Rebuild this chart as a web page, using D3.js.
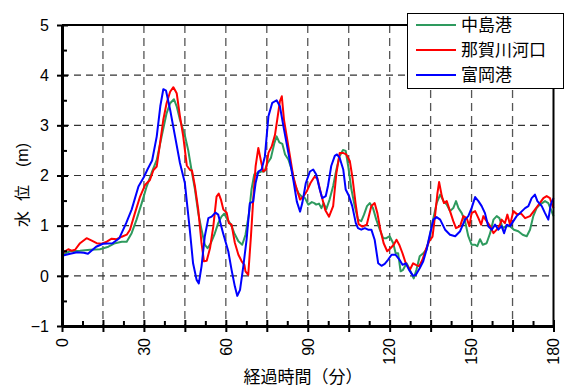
<!DOCTYPE html>
<html><head><meta charset="utf-8">
<script src="https://cdn.jsdelivr.net/npm/d3@7"></script>
<style>body{margin:0;background:#fff}svg{display:block}</style>
</head><body><svg id="c" width="564" height="387"></svg>
<script>
const seriesNames = ["中島港","那賀川河口","富岡港"];
const seriesColors = ["#2e9a5e","#ff0000","#0000ff"];
const xMajor = [0,15,30,45,60,75,90,105,120,135,150,165,180];
const xMinor = [7.5,22.5,37.5,52.5,67.5,82.5,97.5,112.5,127.5,142.5,157.5,172.5];
const xLabels = [0,30,60,90,120,150,180];
const yMajor = [-1,0,1,2,3,4,5];
const yMinor = [-0.5,0.5,1.5,2.5,3.5,4.5];
const yGrid = [0,1,2,3,4];

const nakajima = [[0,0.42],[2.9,0.49],[6.6,0.50],[10.3,0.52],[13.9,0.53],[17,0.58],[19.4,0.65],[21.9,0.68],[23.7,0.68],[25.5,0.85],[27.3,1.12],[29.2,1.45],[31,1.78],[32.8,2.05],[34.7,2.31],[36.5,2.78],[38.3,3.24],[39.6,3.44],[41,3.52],[42,3.38],[43.2,3.11],[45,2.8],[46.2,2.51],[47.4,2.12],[48.7,1.72],[49.9,1.25],[51.1,0.92],[52.3,0.62],[53.3,0.55],[54.5,0.65],[55.8,0.82],[57.2,1.05],[58.4,1.18],[59.4,1.24],[60.6,1.12],[61.9,1.02],[63.1,0.85],[64.6,0.69],[66,0.62],[67.2,0.82],[68.5,1.25],[69.4,1.72],[70.4,2.02],[71.7,2.05],[72.9,2.08],[74.1,2.08],[75.3,2.25],[76.5,2.35],[77.8,2.65],[78.6,2.78],[79.6,2.66],[80.7,2.63],[81.7,2.42],[82.9,2.32],[84.1,2.12],[85.3,1.82],[86.6,1.65],[87.8,1.58],[89,1.55],[90.2,1.42],[91.5,1.47],[92.4,1.45],[93.1,1.42],[94.1,1.44],[95,1.35],[95.8,1.45],[96.8,1.33],[98,1.52],[99.3,1.79],[100.5,2.12],[101.7,2.39],[102.9,2.51],[103.9,2.49],[104.8,2.19],[106,1.72],[107.2,1.39],[108.4,1.12],[109.6,1.09],[110.6,1.22],[111.7,1.39],[112.7,1.45],[113.9,1.35],[115.1,1.12],[116.4,0.92],[117.6,0.75],[118.8,0.75],[120,0.79],[121.3,0.65],[122.2,0.45],[123.1,0.45],[124,0.09],[124.9,0.12],[126.2,0.25],[127.4,0.12],[128.8,-0.05],[129.8,0.12],[131,0.39],[132.3,0.45],[133.5,0.52],[134.7,0.79],[135.9,1.12],[137.2,1.45],[138.5,1.62],[139.7,1.49],[140.9,1.42],[142.1,1.29],[143.3,1.35],[144.3,1.49],[145.2,1.35],[146.4,1.25],[147.6,1.09],[148.8,0.79],[150,0.62],[151.3,0.62],[152.1,0.59],[153.1,0.73],[154.1,0.62],[155.5,0.65],[156.8,0.85],[158,1.12],[159.2,1.19],[160.2,1.15],[161.4,0.95],[162.6,0.99],[164.1,0.99],[165.5,0.92],[167.1,0.89],[168.7,0.82],[170.2,0.79],[171.4,0.92],[172.6,1.19],[173.8,1.35],[175,1.42],[176.9,1.49],[178.1,1.45],[179.3,1.29],[180,1.19]];

const nakagawa = [[0,0.44],[1.1,0.49],[2.3,0.53],[3.5,0.50],[4.8,0.52],[6.6,0.65],[9,0.75],[10.9,0.70],[12.7,0.65],[14.5,0.64],[16.4,0.68],[18.2,0.74],[20,0.73],[21.9,0.78],[23.7,0.82],[24.9,0.92],[26.7,1.25],[28.6,1.58],[30.4,1.81],[32.2,1.91],[33.5,2.11],[34.7,2.18],[35.9,2.64],[37.1,3.11],[38.3,3.44],[39.6,3.67],[40.8,3.76],[42,3.64],[43.2,3.18],[44.4,2.78],[45.7,2.2],[46.9,2.11],[47.6,2.1],[48.7,1.78],[49.9,1.32],[51.1,0.65],[52,0.29],[53,0.30],[54.2,0.55],[55.4,0.98],[56.6,1.58],[57.4,1.64],[58.2,1.52],[59.1,1.32],[60.3,1.26],[61.1,1.05],[62.1,1.02],[63.3,0.66],[64.6,0.42],[65.8,0.29],[66.8,0.22],[67.2,0.09],[68.2,0.02],[69.2,0.79],[70.1,1.58],[70.9,2.18],[71.9,2.55],[72.9,2.28],[73.7,2.08],[74.7,2.12],[75.6,2.45],[76.8,2.58],[78,2.81],[79,3.18],[79.8,3.48],[80.5,3.58],[81.3,3.11],[82.3,2.78],[83.5,2.38],[84.7,1.98],[86,1.72],[87.2,1.52],[88.4,1.58],[89.6,1.68],[91,1.85],[92.4,1.97],[93.5,1.95],[95,1.6],[96.5,1.3],[97.8,1.18],[99.3,1.39],[100.5,2.05],[101.7,2.45],[102.9,2.45],[104.1,2.42],[105.4,2.29],[106.4,1.95],[107.5,1.45],[108.6,1.03],[110,0.98],[111.6,1.02],[113.3,1.39],[114.5,1.45],[115.5,1.25],[116.6,0.92],[117.8,0.65],[119.1,0.49],[120.3,0.55],[121.5,0.62],[122.5,0.72],[123.5,0.62],[124.7,0.45],[125.9,0.25],[127.4,0.12],[128.6,0.25],[129.6,0.22],[130.8,0.19],[132,0.32],[133.2,0.52],[134.5,0.69],[135.7,0.78],[136.6,1.19],[137.5,1.65],[138.1,1.87],[139.1,1.59],[139.9,1.45],[140.9,1.49],[142.1,1.29],[143.3,1.09],[144.3,0.95],[145.8,0.99],[147,1.19],[148.2,1.15],[149.2,0.99],[150,1.25],[151.3,1.29],[152.5,1.15],[153.5,1.02],[154.3,1.19],[155.5,1.09],[156.8,0.99],[158,0.85],[159.2,0.92],[160.4,1.02],[161,1.12],[162.2,1.05],[163.1,1.22],[164.1,1.02],[165.3,1.29],[166.8,1.22],[168,1.25],[169.6,1.15],[171.4,1.19],[173.2,1.32],[175,1.45],[176.3,1.55],[177.5,1.59],[178.7,1.55],[179.7,1.39],[180,1.35]];

const tomioka = [[0,0.40],[3,0.44],[5.5,0.47],[8,0.46],[9.5,0.44],[12.5,0.58],[15,0.64],[18.5,0.65],[21,0.75],[23.5,1.05],[25.5,1.32],[28,1.78],[30,1.97],[31.3,2.12],[33,2.30],[34.7,2.78],[36,3.38],[37.1,3.72],[38.1,3.69],[39.6,3.31],[41.4,2.78],[43.2,2.25],[45,1.85],[46.8,0.92],[48,0.25],[49.3,-0.08],[50.1,-0.15],[51.1,0.19],[52.3,0.79],[53.6,1.15],[54.8,1.18],[56.2,1.26],[57.2,1.22],[59,0.85],[60.9,0.49],[62.1,0.12],[63.3,-0.21],[64.2,-0.40],[65.2,-0.28],[66.4,0.19],[67.6,0.72],[68.8,1.45],[70,1.48],[70.9,1.85],[71.9,2.08],[73.1,2.12],[74.3,2.38],[75.6,3.18],[77,3.45],[78.6,3.50],[79.8,3.38],[81.1,2.98],[82.9,2.45],[84.7,1.92],[86,1.48],[87.2,1.28],[88,1.45],[89.3,1.85],[90.8,2.08],[92,2.12],[93.1,2.02],[94.4,1.72],[95.3,1.55],[96.6,1.59],[97.4,1.79],[98.6,2.19],[99.9,2.39],[100.7,2.42],[101.7,2.35],[103,2.12],[103.9,1.72],[105.1,1.59],[106.3,1.39],[107.6,1.05],[108.4,0.95],[109.6,0.92],[110.9,0.95],[112.1,0.92],[113.3,0.92],[114.5,0.72],[115.8,0.25],[117,0.20],[118.2,0.24],[119.4,0.32],[120.7,0.42],[122.2,0.42],[123.5,0.33],[124.7,0.22],[125.9,0.25],[127.1,0.12],[128.6,0.00],[129.6,0.02],[131,0.15],[132.3,0.29],[133.5,0.52],[134.7,0.82],[136,1.12],[137.2,1.17],[138.5,1.12],[140.3,0.92],[142.1,0.82],[144,0.79],[145.8,0.89],[147.6,1.12],[148.8,1.19],[150,1.35],[151.3,1.57],[152.5,1.49],[153.7,1.39],[154.9,1.25],[156.1,0.99],[157.4,0.92],[158.6,1.02],[159.8,0.92],[161,0.99],[161.9,0.85],[162.9,1.02],[164.1,0.99],[165.3,1.09],[166.5,1.19],[167.7,1.25],[169.6,1.35],[170.8,1.39],[172,1.55],[173.2,1.62],[174.1,1.49],[175.7,1.39],[176.9,1.25],[178.1,1.12],[179,1.42],[180,1.55]];

const seriesData = [nakajima, nakagawa, tomioka];

const svg = d3.select("#c");
const x = d3.scaleLinear().domain([0,180]).range([62,553.5]);
const y = d3.scaleLinear().domain([-1,5]).range([326,25]);
const numFont = "'Liberation Sans', Arial, sans-serif";
const jpFont = "'Noto Sans CJK JP', sans-serif";

// grid
svg.append("g").selectAll("line").data(xMajor.filter(d=>d>0&&d<180)).join("line")
  .attr("x1",d=>x(d)).attr("x2",d=>x(d)).attr("y1",y(5)).attr("y2",y(-1))
  .attr("stroke","#555").attr("stroke-width",1.3).attr("stroke-dasharray","8,5");
svg.append("g").selectAll("line").data(yGrid).join("line")
  .attr("x1",x(0)).attr("x2",x(180)).attr("y1",d=>y(d)).attr("y2",d=>y(d))
  .attr("stroke","#333").attr("stroke-width",1.1).attr("stroke-dasharray","7,5");

// series
const line = d3.line().x(d=>x(d[0])).y(d=>y(d[1]));
seriesData.forEach((s,i)=>{
  svg.append("path").datum(s).attr("d",line).attr("fill","none")
    .attr("stroke",seriesColors[i]).attr("stroke-width",2).attr("stroke-linejoin","round");
});

// frame
svg.append("line").attr("x1",x(0)).attr("x2",x(180)).attr("y1",y(5)).attr("y2",y(5)).attr("stroke","#000").attr("stroke-width",2);
svg.append("line").attr("x1",x(180)).attr("x2",x(180)).attr("y1",y(5)).attr("y2",y(-1)).attr("stroke","#000").attr("stroke-width",2);

// bottom axis
const xAx = svg.append("g").attr("transform",`translate(0,${y(-1)})`)
  .call(d3.axisBottom(x).tickValues(xMajor).tickSizeInner(6).tickSizeOuter(0).tickFormat(""));
xAx.selectAll(".tick line").attr("y1",-6).attr("stroke-width",2);
xAx.select(".domain").attr("stroke-width",3);
const xAxMin = svg.append("g").attr("transform",`translate(0,${y(-1)})`)
  .call(d3.axisBottom(x).tickValues(xMinor).tickSizeInner(-5).tickSizeOuter(0).tickFormat(""));
xAxMin.select(".domain").remove();
xAxMin.selectAll(".tick line").attr("stroke-width",2);

// left axis
const yAx = svg.append("g").attr("transform",`translate(${x(0)},0)`)
  .call(d3.axisLeft(y).tickValues(yMajor).tickSizeInner(5).tickSizeOuter(0).tickFormat(""));
yAx.selectAll(".tick line").attr("x1",6).attr("stroke-width",2);
yAx.select(".domain").attr("stroke-width",3);
const yAxMin = svg.append("g").attr("transform",`translate(${x(0)},0)`)
  .call(d3.axisLeft(y).tickValues(yMinor).tickSizeInner(-5).tickSizeOuter(0).tickFormat(""));
yAxMin.select(".domain").remove();
yAxMin.selectAll(".tick line").attr("stroke-width",2);

// y tick labels
svg.append("g").selectAll("text").data(yMajor).join("text")
  .attr("x",49).attr("y",d=>y(d)).attr("dy","0.36em").attr("text-anchor","end")
  .attr("font-family",numFont).attr("font-size",16).attr("fill","#000")
  .text(d=>d<0?"\u2212"+Math.abs(d):d);

// x tick labels (rotated)
svg.append("g").selectAll("text").data(xLabels).join("text")
  .attr("transform",d=>`translate(${x(d)},338) rotate(-90)`)
  .attr("dy","0.36em").attr("text-anchor","end")
  .attr("font-family",numFont).attr("font-size",16).attr("fill","#000")
  .text(d=>d);

// axis titles
svg.append("text").attr("x",303).attr("y",383).attr("text-anchor","middle")
  .attr("font-family",jpFont).attr("font-size",17).attr("fill","#000").text("経過時間（分）");
const yt = svg.append("text").attr("transform","translate(22,0) rotate(-90)")
  .attr("font-family",jpFont).attr("font-size",16).attr("fill","#000").attr("dy","0.36em")
  .attr("text-anchor","middle");
yt.append("tspan").attr("x",-219).text("水");
yt.append("tspan").attr("x",-193).text("位");
yt.append("tspan").attr("x",-155).attr("font-family",numFont).text("(m)");

// legend
const lg = svg.append("g");
lg.append("rect").attr("x",407.5).attr("y",13.5).attr("width",156).attr("height",75)
  .attr("fill","#fff").attr("stroke","#000").attr("stroke-width",1);
seriesNames.forEach((n,i)=>{
  const cy = 25 + i*25;
  lg.append("line").attr("x1",416).attr("x2",456).attr("y1",cy).attr("y2",cy)
    .attr("stroke",seriesColors[i]).attr("stroke-width",2);
  lg.append("text").attr("x",461).attr("y",cy).attr("dy","0.36em")
    .attr("font-family",jpFont).attr("font-size",17).attr("fill","#000").text(n);
});
</script></body></html>
